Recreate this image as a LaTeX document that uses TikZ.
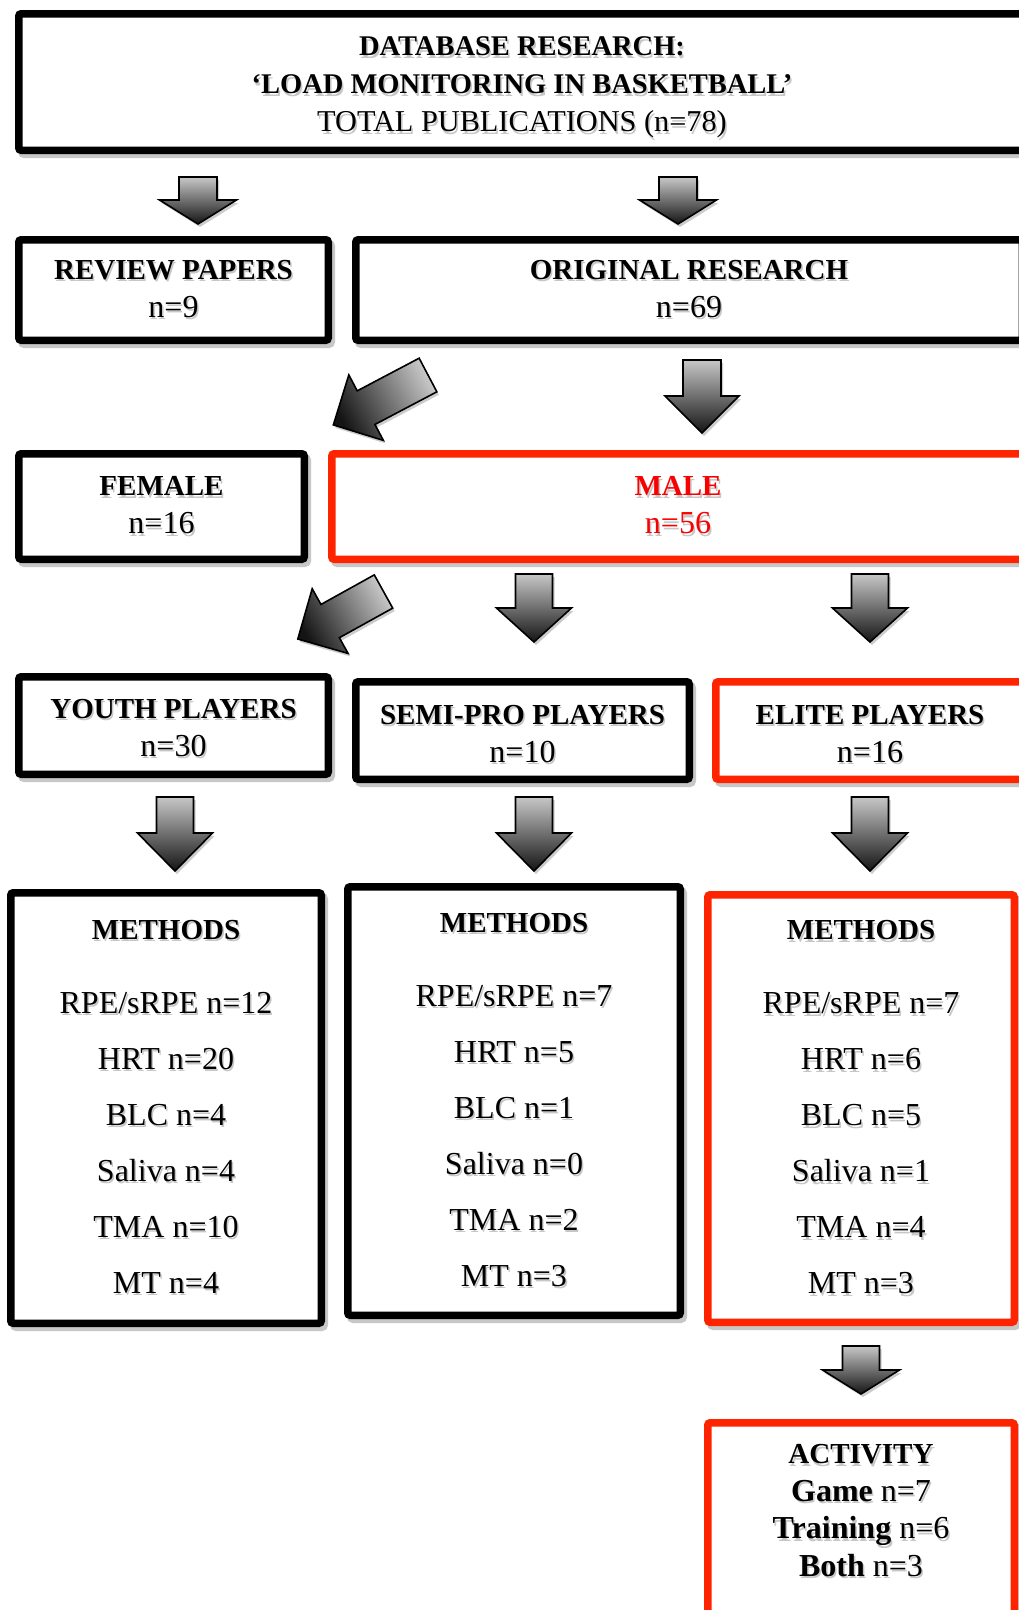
\documentclass[tikz,border=0pt]{standalone}
\usepackage{fontspec}
\setmainfont{Liberation Serif}
\definecolor{boxred}{RGB}{255,36,0}
\definecolor{txtred}{RGB}{250,0,0}
\newcommand\ts[2][black]{\leavevmode\rlap{\kern1.5pt\raisebox{-2.5pt}{\color{black!22}#2}}{\color{#1}#2}}
\newcommand\hb[1]{{\fontsize{29}{38}\selectfont\bfseries #1}}
\newcommand\barrow[6]{%
  \pgfmathsetmacro\bsang{#2+90}%
  \begin{scope}[shift={(#1)}, rotate=#2]
    \shade[arrowsty, shading angle=\bsang] (0,#4/2) -- (#3-#6,#4/2) -- (#3-#6,#5/2) -- (#3,0) -- (#3-#6,-#5/2) -- (#3-#6,-#4/2) -- (0,-#4/2) -- cycle;
  \end{scope}}
\tikzset{
  box/.style={draw=black, line width=7.5pt, fill=white, rounded corners=2.5pt, inner sep=0pt, align=center,
    font=\fontsize{32}{38}\selectfont,
    preaction={draw=black!22, line width=7.5pt, transform canvas={xshift=3pt, yshift=-4pt}}},
  redbox/.style={box, draw=boxred},
  methbox/.style={font=\fontsize{32}{56}\selectfont},
  txt/.style={inner sep=0pt, align=center, font=\fontsize{32}{38}\selectfont},
  arrowsty/.style={draw=black, line width=1.6pt, line join=miter, top color=black!22, bottom color=black!92,
    preaction={fill=black!20, transform canvas={xshift=2pt, yshift=-3pt}}},
}
\begin{document}
\begin{tikzpicture}[x=1pt, y=-1pt]
\useasboundingbox (0,0) rectangle (1019,1610);
\clip (0,0) rectangle (1019,1610);
\fill[white] (0,0) rectangle (1019,1610);

% boxes
\node[box, minimum width=1006.5pt, minimum height=136.5pt] (top) at (522,82) {};
\node[txt] (topT) at (522,89)
  {\ts{{\fontsize{28.5}{37.5}\selectfont\bfseries DATABASE RESEARCH:}}\\
   \ts{{\fontsize{28.5}{37.5}\selectfont\bfseries ‘LOAD MONITORING IN BASKETBALL’}}\\
   \ts{{\fontsize{30.3}{37.5}\selectfont TOTAL PUBLICATIONS (n=78)}}};
\node[box, minimum width=309.5pt, minimum height=100.5pt] (review) at (173.5,290)
  {\ts{\hb{REVIEW PAPERS}}\\ \ts{n=9}};
\node[box, minimum width=666.5pt, minimum height=100.5pt] (orig) at (689,290)
  {\ts{\hb{ORIGINAL RESEARCH}}\\ \ts{n=69}};
\node[box, minimum width=285.5pt, minimum height=105.5pt] (female) at (161.5,506.5)
  {\ts{\hb{FEMALE}}\\ \ts{n=16}};
\node[redbox, minimum width=692.5pt, minimum height=105.5pt] (male) at (678,506.5)
  {\ts[txtred]{\hb{MALE}}\\ \ts[txtred]{n=56}};
\node[box, minimum width=309.5pt, minimum height=97.5pt] (youth) at (173.5,725.5) {};
\node[txt] (youthT) at (173.5,729) {\ts{\hb{YOUTH PLAYERS}}\\ \ts{n=30}};
\node[box, minimum width=333.5pt, minimum height=97.5pt] (semi) at (522.5,730.5) {};
\node[txt] (semiT) at (522.5,735) {\ts{\hb{SEMI-PRO PLAYERS}}\\ \ts{n=10}};
\node[redbox, minimum width=308.5pt, minimum height=97.5pt] (elite) at (870,730.5) {};
\node[txt] (eliteT) at (870,735) {\ts{\hb{ELITE PLAYERS}}\\ \ts{n=16}};

\node[box, methbox, minimum width=310.5pt, minimum height=430.5pt] (methL) at (166,1108)
  {\ts{{\fontsize{29}{56}\selectfont\bfseries METHODS}}\\[18pt]
   \ts{RPE/sRPE n=12}\\ \ts{HRT n=20}\\ \ts{BLC n=4}\\ \ts{Saliva n=4}\\ \ts{TMA n=10}\\ \ts{MT n=4}};
\node[box, methbox, minimum width=332.5pt, minimum height=428.5pt] (methM) at (514,1101)
  {\ts{{\fontsize{29}{56}\selectfont\bfseries METHODS}}\\[18pt]
   \ts{RPE/sRPE n=7}\\ \ts{HRT n=5}\\ \ts{BLC n=1}\\ \ts{Saliva n=0}\\ \ts{TMA n=2}\\ \ts{MT n=3}};
\node[redbox, methbox, minimum width=306.5pt, minimum height=427.5pt] (methR) at (861,1108.5)
  {\ts{{\fontsize{29}{56}\selectfont\bfseries METHODS}}\\[18pt]
   \ts{RPE/sRPE n=7}\\ \ts{HRT n=6}\\ \ts{BLC n=5}\\ \ts{Saliva n=1}\\ \ts{TMA n=4}\\ \ts{MT n=3}};
\node[redbox, minimum width=306.5pt, minimum height=223.5pt] (act) at (861,1534.5) {};
\node[txt, font=\fontsize{32}{37.5}\selectfont] (actT) at (861,1512)
  {\ts{{\fontsize{29}{37.5}\selectfont\bfseries ACTIVITY}}\\
   \ts{\textbf{Game} n=7}\\ \ts{\textbf{Training} n=6}\\ \ts{\textbf{Both} n=3}};

% arrow tails
\coordinate (t1) at (198,177);
\coordinate (t2) at (678,177);
\coordinate (t3) at (428,375);
\coordinate (t4) at (702,360);
\coordinate (t5) at (383.5,591.5);
\coordinate (t6) at (534,574);
\coordinate (t7) at (870,574);
\coordinate (t8) at (175,797);
\coordinate (t9) at (534,797);
\coordinate (t10) at (870,797);
\coordinate (t11) at (861,1346);

\barrow{t1}{-90}{47}{38}{77}{24}
\barrow{t2}{-90}{47}{38}{77}{24}
\barrow{t3}{207.8}{107}{38}{74}{37}
\barrow{t4}{-90}{73}{38}{74}{37}
\barrow{t5}{209}{98}{38}{74}{37}
\barrow{t6}{-90}{68}{37}{75}{34}
\barrow{t7}{-90}{68}{37}{75}{34}
\barrow{t8}{-90}{74}{37}{75}{38}
\barrow{t9}{-90}{74}{37}{75}{38}
\barrow{t10}{-90}{74}{37}{75}{38}
\barrow{t11}{-90}{48}{37}{77}{24}
\end{tikzpicture}
\end{document}
